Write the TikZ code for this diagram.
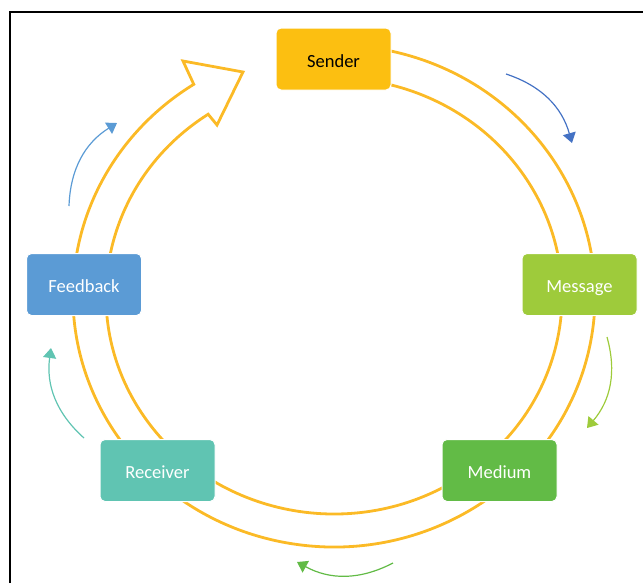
\documentclass[tikz,border=0pt]{standalone}
\usepackage{fontspec}
\setmainfont{Carlito}
\usetikzlibrary{arrows.meta}
\definecolor{ringc}{RGB}{251,186,38}
\definecolor{senderc}{RGB}{252,191,17}
\definecolor{messagec}{RGB}{158,203,59}
\definecolor{mediumc}{RGB}{98,187,70}
\definecolor{receiverc}{RGB}{96,196,178}
\definecolor{feedbackc}{RGB}{91,155,213}
\definecolor{blueD}{RGB}{68,114,196}
\begin{document}
\begin{tikzpicture}[x=0.75pt,y=0.75pt,
  box/.style={draw=white, line width=0.75pt, rounded corners=3.75pt,
    minimum width=86.25pt, minimum height=46.5pt, inner sep=0pt,
    text height=14pt, text depth=1.6pt,
    font=\fontsize{13.9}{16}\selectfont, text=white},
  ring/.style={draw=ringc, line width=2.1pt, line join=miter},
  cyc/.style={line width=0.9pt, -{Triangle[length=7.5pt,width=9.8pt]}, bend left=28}
]
\useasboundingbox (0,0) rectangle (643,-583);
\draw[line width=0.8pt] (10,-583) -- (10,-12) -- (643,-12);

% ring arrow
\coordinate (ctr) at (334,-296);
\path (ctr) ++(80:261 and 251) coordinate (os);
\path (ctr) ++(123.5:228 and 218) coordinate (ie);
\coordinate (ob) at (183,-61);
\coordinate (tip) at (243,-72);
\coordinate (ib) at (217,-125);
\draw[ring] (os) arc[start angle=80, end angle=-237.5, x radius=261, y radius=251]
  -- (ob) -- (tip) -- (ib) -- (ie)
  arc[start angle=-236.5, end angle=80, x radius=228, y radius=218] -- cycle;

% boxes
\node[box, fill=senderc, text=black] (sender) at (333.5,-59) {Sender};
\node[box, fill=messagec] (message) at (579.5,-284.5) {Message};
\node[box, fill=mediumc] (medium) at (499.5,-470.5) {Medium};
\node[box, fill=receiverc] (receiver) at (157.5,-470.5) {Receiver};
\node[box, fill=feedbackc] (feedback) at (84,-284.5) {Feedback};

% small cycle arrows
\coordinate (a1s) at (506,-74);  \coordinate (a1e) at (572,-143);
\coordinate (a2s) at (607,-337); \coordinate (a2e) at (587,-428);
\coordinate (a3s) at (393,-563); \coordinate (a3e) at (297,-562);
\coordinate (a4s) at (84,-438);  \coordinate (a4e) at (51,-348);
\coordinate (a5s) at (69,-206);  \coordinate (a5e) at (117,-123);
\draw[cyc, blueD] (a1s) to (a1e);
\draw[cyc, messagec] (a2s) to (a2e);
\draw[cyc, mediumc] (a3s) to (a3e);
\draw[cyc, receiverc] (a4s) to (a4e);
\draw[cyc, feedbackc] (a5s) to (a5e);
\end{tikzpicture}
\end{document}
